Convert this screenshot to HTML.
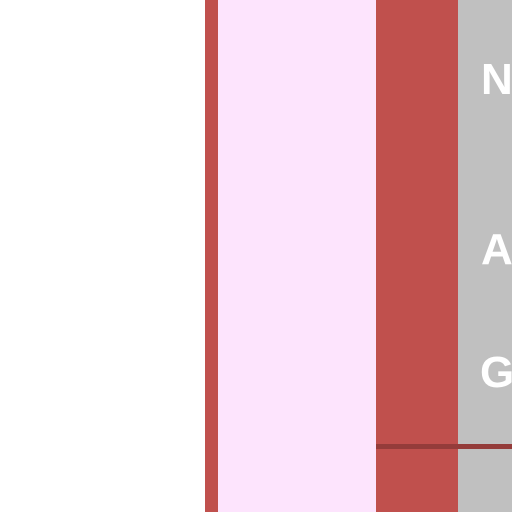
<!DOCTYPE html>
<html><head><meta charset="utf-8"><style>
html,body{margin:0;padding:0;background:#fff;}
svg{display:block;}
</style></head><body>
<svg width="512" height="512" viewBox="0 0 512 512">
<rect x="0" y="0" width="205" height="512" fill="#ffffff"/>
<rect x="205" y="0" width="13" height="512" fill="#c0504d"/>
<rect x="218" y="0" width="158" height="512" fill="#fde4fd"/>
<rect x="376" y="0" width="82" height="512" fill="#c0504d"/>
<rect x="458" y="0" width="54" height="512" fill="#c0c0c0"/>
<rect x="376" y="444" width="136" height="5" fill="#943c3a"/>
<g font-family="Liberation Sans, sans-serif" font-weight="bold" font-size="44" fill="#ffffff">
<text x="481" y="94">N</text>
<text x="481" y="264">A</text>
<text x="480" y="387">G</text>
</g>
</svg>
</body></html>
